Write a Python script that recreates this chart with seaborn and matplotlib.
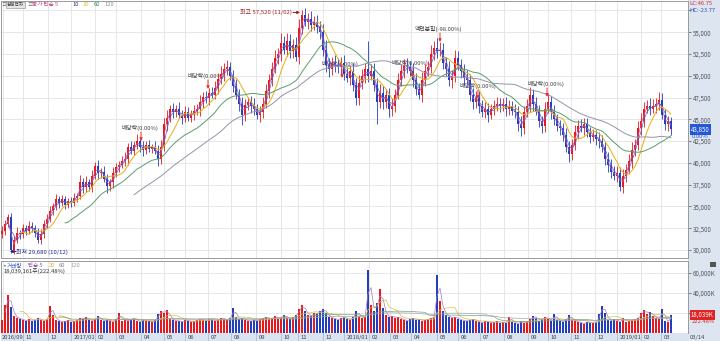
import numpy as np
import pandas as pd
import matplotlib
matplotlib.use("Agg")
import matplotlib.pyplot as plt
import seaborn as sns
from matplotlib.patches import Rectangle
from matplotlib.transforms import blended_transform_factory

sns.set_theme(style="white")
plt.rcParams["font.family"] = ["Noto Sans CJK KR", "DejaVu Sans"]
plt.rcParams["axes.unicode_minus"] = False

# ---------------- data (each candle ~ 3 trading days) ----------------
first_open_100 = 318
close_100 = [
    322, 330, 338, 300, 312, 320, 318, 325, 322, 328, 325, 320, 312, 318, 330, 336,
    345, 350, 358, 354, 358, 352, 356, 354, 360, 362, 378, 372, 378, 372, 385, 396,
    388, 390, 382, 373, 378, 388, 395, 398, 402, 405, 418, 414, 420, 425, 418, 415,
    420, 416, 418, 414, 404, 418, 445, 452, 462, 458, 462, 455, 452, 458, 452, 456,
    460, 462, 470, 476, 474, 480, 478, 486, 496, 502, 508, 510, 500, 488, 478, 468,
    455, 466, 470, 465, 462, 455, 458, 468, 482, 495, 508, 520, 525, 538, 530, 540,
    528, 535, 522, 555, 570, 562, 565, 558, 562, 556, 550, 530, 512, 508, 515, 512,
    510, 515, 502, 498, 505, 490, 475, 492, 500, 508, 500, 505, 490, 470, 480, 470,
    478, 462, 465, 478, 495, 505, 512, 510, 505, 495, 485, 478, 495, 505, 510, 525,
    532, 528, 530, 515, 508, 495, 500, 520, 512, 505, 498, 495, 478, 470, 475, 465,
    458, 462, 455, 462, 465, 468, 465, 468, 462, 465, 460, 458, 445, 440, 458, 465,
    478, 468, 460, 448, 442, 462, 470, 458, 450, 442, 440, 432, 418, 410, 420, 435,
    442, 440, 445, 435, 430, 432, 428, 425, 418, 405, 398, 390, 385, 388, 372, 385,
    392, 402, 415, 420, 440, 448, 462, 465, 462, 465, 468, 472, 455, 445, 448, 438.5,
]
wick_hi = [
    5, 4, 3, 5, 4, 6, 3, 5, 4, 5, 4, 4, 5, 6, 4, 5,
    5, 4, 6, 4, 5, 4, 4, 5, 6, 4, 8, 5, 7, 4, 7, 5,
    7, 4, 6, 5, 4, 7, 5, 4, 6, 7, 5, 7, 5, 8, 5, 7,
    5, 6, 4, 7, 6, 8, 7, 9, 5, 7, 5, 8, 6, 7, 6, 5,
    7, 6, 8, 5, 7, 6, 7, 8, 7, 9, 7, 8, 6, 7, 8, 7,
    8, 7, 6, 7, 9, 6, 7, 8, 9, 7, 8, 10, 7, 11, 8, 9,
    8, 7, 9, 10, 5, 8, 7, 9, 7, 8, 7, 10, 11, 8, 7, 9,
    8, 7, 9, 8, 7, 10, 8, 9, 8, 7, 32, 8, 10, 7, 11, 8,
    7, 8, 10, 7, 8, 9, 7, 8, 7, 10, 8, 7, 9, 8, 7, 10,
    8, 11, 9, 8, 7, 9, 7, 10, 8, 7, 8, 9, 7, 8, 7, 8,
    7, 8, 7, 6, 7, 8, 6, 7, 8, 7, 6, 8, 7, 9, 7, 8,
    9, 7, 8, 7, 6, 8, 10, 7, 8, 6, 7, 6, 8, 7, 8, 9,
    7, 8, 6, 7, 6, 7, 6, 8, 7, 6, 7, 6, 7, 8, 7, 8,
    7, 8, 9, 7, 8, 9, 8, 7, 9, 8, 7, 9, 8, 7, 6, 5,
]
wick_lo = [
    4, 5, 4, 3, 5, 4, 5, 4, 5, 4, 4, 5, 4, 5, 4, 5,
    4, 5, 4, 6, 4, 5, 4, 5, 4, 5, 4, 7, 5, 4, 5, 4,
    7, 5, 4, 8, 5, 7, 4, 5, 4, 5, 7, 4, 5, 4, 5, 7,
    5, 4, 5, 4, 7, 5, 4, 8, 5, 7, 5, 4, 7, 5, 4, 5,
    7, 5, 8, 7, 5, 7, 4, 5, 7, 5, 8, 7, 5, 7, 5, 8,
    11, 7, 5, 8, 7, 5, 8, 7, 5, 8, 7, 5, 7, 8, 5, 7,
    8, 7, 5, 8, 7, 5, 8, 7, 5, 7, 8, 7, 8, 9, 7, 8,
    7, 8, 7, 5, 8, 7, 8, 8, 7, 8, 7, 5, 8, 25, 7, 8,
    7, 9, 8, 7, 5, 7, 8, 7, 5, 8, 7, 5, 8, 7, 5, 7,
    7, 8, 5, 7, 8, 7, 9, 7, 5, 7, 8, 5, 7, 8, 7, 8,
    5, 7, 8, 5, 7, 5, 7, 5, 8, 7, 5, 7, 8, 9, 7, 5,
    7, 8, 5, 7, 8, 7, 5, 8, 7, 5, 8, 7, 5, 9, 7, 5,
    7, 5, 8, 5, 7, 5, 7, 8, 5, 7, 8, 7, 5, 7, 4, 7,
    7, 5, 8, 7, 5, 8, 7, 5, 7, 5, 8, 7, 5, 7, 8, 6,
]
volume_m = [
    13, 28, 38, 26, 17, 15, 14, 13, 12, 14, 12, 13, 15, 13, 12, 14,
    27, 18, 13, 12, 11, 12, 13, 11, 12, 13, 15, 14, 16, 13, 12, 14,
    17, 13, 12, 13, 12, 11, 14, 20, 12, 13, 12, 14, 15, 12, 11, 13,
    12, 12, 11, 13, 19, 22, 20, 23, 14, 13, 12, 12, 11, 13, 12, 11,
    12, 13, 14, 13, 12, 14, 13, 12, 13, 15, 14, 13, 15, 25, 16, 14,
    15, 13, 12, 12, 13, 12, 14, 15, 16, 14, 15, 17, 14, 16, 18, 15,
    14, 16, 18, 24, 28, 22, 18, 17, 20, 19, 22, 24, 20, 16, 15, 14,
    13, 15, 16, 14, 13, 16, 22, 17, 15, 16, 63, 28, 22, 30, 44, 25,
    18, 16, 17, 15, 16, 14, 13, 12, 14, 15, 13, 14, 12, 13, 14, 15,
    16, 58, 32, 22, 18, 16, 15, 16, 14, 13, 12, 12, 13, 14, 12, 11,
    10, 12, 11, 10, 11, 12, 10, 11, 10, 16, 11, 10, 9, 12, 10, 11,
    14, 17, 15, 12, 14, 16, 14, 12, 19, 13, 12, 11, 14, 18, 13, 12,
    11, 10, 9, 11, 10, 10, 11, 19, 27, 20, 13, 12, 14, 12, 11, 15,
    11, 12, 13, 14, 15, 20, 23, 19, 21, 17, 15, 14, 24, 12, 11, 18,
]
month_pos = [3, 23, 48, 71, 95, 116, 141, 164, 185, 208, 231, 256, 281, 298, 323,
             344, 369, 390, 411, 437, 458, 480, 504, 528, 548, 571, 595, 617, 641, 661]
month_lbl = ["", "11", "12", "2017/01", "02", "03", "04", "05", "06", "07", "08", "09",
             "10", "11", "12", "2018/01", "02", "03", "04", "05", "06", "07", "08", "09",
             "10", "11", "12", "2019/01", "02", "03"]
price_ticks = [30000, 32500, 35000, 37500, 40000, 42500, 45000, 47500, 50000,
               52500, 55000, 57500]
ma_windows = {"5": 2, "10": 3, "20": 7, "60": 20, "120": 40}      # in candles
vma_windows = {"5": 2, "20": 7, "60": 20, "120": 40}

# ---------------- derived ----------------
n = len(close_100)
x = 2 + 3 * np.arange(n)
close = np.array(close_100, float) * 100
open_ = np.r_[first_open_100 * 100, close[:-1]]
high = np.maximum(open_, close) + np.array(wick_hi) * 100
low = np.minimum(open_, close) - np.array(wick_lo) * 100
vol = np.array(volume_m, float)
RED, BLUE = "#e8181c", "#1f3fc0"
cols = np.where(close >= open_, RED, BLUE)

df = pd.DataFrame({"x": x, "close": close, "vol": vol})
for k, w in ma_windows.items():
    df["ma" + k] = df["close"].rolling(w).mean()
for k, w in vma_windows.items():
    df["vma" + k] = df["vol"].rolling(w).mean()
df.loc[df.x < 65, "ma60"] = np.nan
df.loc[df.x < 133, "ma120"] = np.nan

W, H = 720, 341
fig = plt.figure(figsize=(W / 100, H / 100), dpi=100)
fig.patch.set_facecolor("white")


def rect(x0, y0, x1, y1):
    return [x0 / W, 1 - y1 / H, (x1 - x0) / W, (y1 - y0) / H]


def yp(py):  # pixel row -> price for label placement
    return 30000 + (250 - py) / 0.008708


fig.patches.append(Rectangle((688 / W, 0), 32 / W, 1, transform=fig.transFigure,
                             facecolor="#dde5f1", edgecolor="none", zorder=-5))

ax = fig.add_axes(rect(1, 1, 688, 258))
axv = fig.add_axes(rect(1, 261, 688, 333), sharex=ax)
axd = fig.add_axes(rect(1, 333, 688, 340.5), sharex=ax)

GRID = "#e3e3e3"
for a in (ax, axv):
    a.set_facecolor("white")
    a.set_xticks(month_pos)
    a.grid(True, color=GRID, lw=0.6)
    a.tick_params(axis="x", length=0, labelbottom=False)
    a.yaxis.tick_right()
    a.tick_params(axis="y", length=2, width=0.5, pad=1.5, labelsize=4.4,
                  colors="#555555", left=False, right=True)
    for s in a.spines.values():
        s.set_color("#9a9a9a")
        s.set_linewidth(0.7)
    a.set_axisbelow(True)

ax.set_xlim(1, 688)
ax.set_ylim(29080, 58590)
ax.set_yticks(price_ticks)
ax.set_yticklabels([f"{t:,}" if t <= 55000 else "" for t in price_ticks])

# candles
ax.vlines(x, low, high, colors=cols, lw=0.6, zorder=3)
ax.bar(x, np.maximum(np.abs(close - open_), 60), bottom=np.minimum(open_, close),
       width=2.2, color=cols, lw=0, zorder=3.1)

ma_colors = {"5": "#d0509a", "10": "#4868d0", "20": "#e8ae10", "60": "#5a9c6c",
             "120": "#9494aa"}
for k, c in ma_colors.items():
    d = df.dropna(subset=["ma" + k])
    sns.lineplot(data=d, x="x", y="ma" + k, ax=ax, color=c,
                 lw=0.7 if k in ("20", "60", "120") else 0.5, zorder=4, legend=False)
ax.set_xlabel("")
ax.set_ylabel("")

# volume
axv.set_ylim(0, 72)
axv.set_yticks([20, 40, 60])
axv.set_yticklabels(["", "40,000K", "60,000K"])
axv.bar(x, vol, width=2.9, color=cols, lw=0, zorder=3)
vma_colors = {"5": "#a878c0", "20": "#d8c040", "60": "#78a078", "120": "#a8a8a8"}
for k, c in vma_colors.items():
    d = df.dropna(subset=["vma" + k])
    sns.lineplot(data=d, x="x", y="vma" + k, ax=axv, color=c, lw=0.5, zorder=4, legend=False)
axv.set_xlabel("")
axv.set_ylabel("")

# date strip
axd.set_facecolor("#dae4f0")
axd.set_ylim(0, 1)
axd.set_yticks([])
axd.tick_params(axis="x", length=0, labelbottom=False)
for s in axd.spines.values():
    s.set_visible(False)
for p in month_pos[1:]:
    axd.axvline(p, color="#b0bccc", lw=0.6)
axd.text(2, 0.45, "2016/09", fontsize=4.2, color="#444444", va="center", ha="left")
for p, l in zip(month_pos, month_lbl):
    if l:
        axd.text(p + 2.5, 0.45, l, fontsize=4.2, color="#444444", va="center", ha="left")


def ft(px, py, s, **kw):
    kw.setdefault("fontsize", 4.2)
    kw.setdefault("va", "center")
    kw.setdefault("ha", "left")
    return fig.text(px / W, 1 - py / H, s, **kw)


# top-left legend
ft(1.0, 5, "≡", color="#666666", fontsize=4.0)
ft(7, 5, "삼성전자", color="#333333", fontsize=3.3,
   bbox=dict(boxstyle="square,pad=0.12", fc="#e6e6e6", ec="#9a9a9a", lw=0.5))
ft(27.5, 5, "≡", color="#666666", fontsize=4.0)
ft(32, 5, "종가 단순 5", color="#c04888", fontsize=4.0)
ft(72, 5, "10", color="#34408a")
ft(83, 5, "20", color="#e0c030")
ft(94, 5, "60", color="#3a8a58")
ft(104, 5, "120", color="#909090")

# volume legend
ft(1.5, 265.5, "▪", color="#6a7aa0")
ft(7, 265.5, "거래량", color="#3050c0", fontsize=4.0)
ft(28, 265.5, "단순 5", color="#9050a8", fontsize=4.0)
ft(49, 265.5, "20", color="#d8b830")
ft(59, 265.5, "60", color="#808080")
ft(70, 265.5, "120", color="#a0a0a0")
ft(3, 271.5, "18,039,161주(222.48%)", color="#333333")

# right strip texts
ft(689.5, 3.5, "LC:46.75", color="#d03030")
ft(689.5, 11, "HC:-23.77", color="#3050b0")
tr = blended_transform_factory(ax.transAxes, ax.transData)
ax.text(1.004, 43850, "43,850", transform=tr, fontsize=4.4, color="white", va="center",
        ha="left", clip_on=False, zorder=10,
        bbox=dict(boxstyle="square,pad=0.2", fc="#2458d8", ec="none"))
ax.text(1.006, yp(136.5), "0.00%", transform=tr, fontsize=4.2, color="#2458d8",
        va="center", ha="left", clip_on=False)
trv = blended_transform_factory(axv.transAxes, axv.transData)
axv.text(1.004, 18.04, "18,039K", transform=trv, fontsize=4.4, color="white", va="center",
         ha="left", clip_on=False, zorder=10,
         bbox=dict(boxstyle="square,pad=0.2", fc="#e02424", ec="none"))
axv.text(1.006, 11.5, "222.48%", transform=trv, fontsize=4.2, color="#e02424",
         va="center", ha="left", clip_on=False)
ft(690, 337, "03/14", color="#444444")
fig.patches.append(Rectangle((710 / W, 1 - 267 / H), 6 / W, 5 / H, transform=fig.transFigure,
                             facecolor="#555555", edgecolor="none", zorder=5))

# event annotations
ANN = "#404040"
ARR = "#e23030"
events = [  # (text_x, text_py, arrow_x, arrow_top_py, arrow_bottom_py, label)
    (121, 127.5, 141, 132, 141, "배당락(0.00%)"),
    (188, 75.5, 208, 80, 89, "배당락(0.00%)"),
    (322, 64.5, 342, 69, 78, "배당락(0.00%)"),
    (392, 63.5, 412, 68, 77, "배당락(0.00%)"),
    (459, 85.5, 478, 90, 99, "배당락(0.00%)"),
    (528, 83.5, 547, 88, 97, "배당락(0.00%)"),
    (415, 28.5, 440, 33, 42, "액면분할(-98.00%)"),
]
for tx, ty, axx, a0, a1, lab in events:
    ax.text(tx, yp(ty), lab, fontsize=4.2, color=ANN, va="center", ha="left", zorder=2.5)
    ax.annotate("", xy=(axx, yp(a1)), xytext=(axx, yp(a0)), zorder=5,
                arrowprops=dict(arrowstyle="-|>", color=ARR, lw=0.7, mutation_scale=4,
                                shrinkA=0, shrinkB=0))

ax.text(240, yp(12.5), "최고 57,520 (11/02)", fontsize=4.3, color="#a01c1c",
        va="center", ha="left", zorder=5)
ax.annotate("", xy=(300, yp(12.5)), xytext=(293, yp(12.5)), zorder=5,
            arrowprops=dict(arrowstyle="-|>", color="#a01c1c", lw=0.7, mutation_scale=4,
                            shrinkA=0, shrinkB=0))
ax.text(16, yp(251.5), "최저 29,680 (10/12)", fontsize=4.3, color="#1a2a8a",
        va="center", ha="left", zorder=5)
ax.annotate("", xy=(10, yp(251.5)), xytext=(16, yp(251.5)), zorder=5,
            arrowprops=dict(arrowstyle="-|>", color="#1a2a8a", lw=0.7, mutation_scale=4,
                            shrinkA=0, shrinkB=0))

fig.savefig("out.png", dpi=100, facecolor="white")
